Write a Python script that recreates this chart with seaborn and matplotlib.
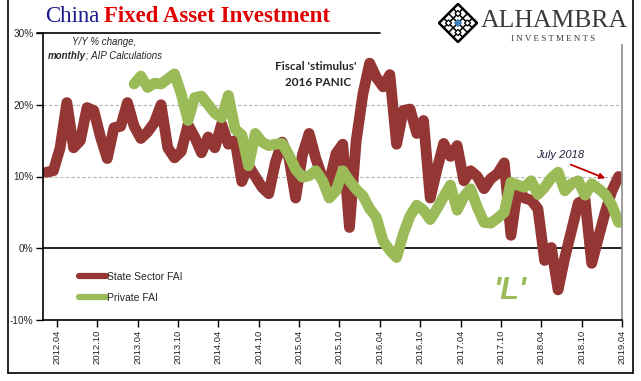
import numpy as np
import pandas as pd
import matplotlib
matplotlib.use("Agg")
import matplotlib.pyplot as plt
import seaborn as sns
from matplotlib.patches import Polygon
from matplotlib.lines import Line2D

# monthly categories, 2012.03 .. 2019.04
months = list(pd.period_range("2012-03", "2019-04", freq="M").strftime("%Y.%m"))
tick_labels = ["2012.04", "2012.10", "2013.04", "2013.10", "2014.04", "2014.10",
               "2015.04", "2015.10", "2016.04", "2016.10", "2017.04", "2017.10",
               "2018.04", "2018.10", "2019.04"]

state_fai = [10.6, 10.8, 14.0, 20.3, 14.0, 15.0, 19.6, 19.2, 15.5, 12.5,
             16.8, 17.0, 20.3, 17.0, 15.3, 16.2, 17.5, 20.0, 14.0, 12.6,
             13.5, 17.2, 15.5, 13.3, 15.5, 14.0, 17.3, 14.5, 15.0, 9.3,
             11.5, 10.0, 8.5, 7.6, 12.0, 14.8, 12.6, 7.0, 13.0, 16.0,
             12.5, 9.8, 9.2, 13.2, 14.5, 2.9, 15.0, 21.5, 25.8, 23.8,
             22.5, 24.2, 14.5, 19.2, 19.4, 16.0, 17.8, 7.0, 11.0, 14.6,
             12.8, 14.3, 9.4, 10.8, 10.0, 8.3, 9.7, 10.4, 11.9, 1.8,
             8.5, 7.0, 6.7, 5.5, -1.7, 0.1, -5.8, -1.3, 2.5, 6.3,
             6.8, -2.1, 1.5, 5.0, 8.0, 10.0]

# private series starts in 2013.04
private_fai = [22.9, 24.0, 22.4, 23.0, 22.9, 23.6, 24.3, 21.5, 17.8, 21.0,
               21.2, 20.0, 18.8, 18.2, 21.3, 16.6, 15.8, 11.5, 16.0, 14.8,
               14.3, 14.5, 14.6, 13.0, 11.0, 9.9, 10.1, 10.8, 9.4, 7.0,
               8.0, 10.8, 9.4, 8.2, 7.3, 5.5, 4.3, 1.0, -0.3, -1.3,
               2.0, 4.5, 6.0, 5.3, 4.0, 5.5, 7.2, 8.8, 5.3, 7.2,
               8.3, 5.7, 3.6, 3.5, 4.2, 5.0, 9.2, 8.8, 8.5, 9.4,
               7.5, 8.5, 9.8, 10.6, 8.0, 9.0, 9.4, 7.4, 9.0, 8.3,
               7.5, 6.0, 3.6]

RED = "#943634"
GREEN = "#9BBB59"

df = pd.DataFrame({
    "month": months,
    "pos": np.arange(len(months)),
    "state": state_fai,
    "private": [np.nan] * (len(months) - len(private_fai)) + private_fai,
})

sns.set_style("white")
plt.rcParams["font.family"] = ["Liberation Sans", "DejaVu Sans"]

W, H = 641, 381
fig = plt.figure(figsize=(W / 100, H / 100), dpi=100)
ax = fig.add_axes([43.3 / W, 1 - 320 / H, (622 - 43.3) / W, (320 - 33) / H])

sns.lineplot(data=df, x="pos", y="state", ax=ax, color=RED, linewidth=7.8,
             label="State Sector FAI")
sns.lineplot(data=df, x="pos", y="private", ax=ax, color=GREEN, linewidth=7.8,
             label="Private FAI")
for ln in ax.lines:
    ln.set_solid_capstyle("round")
    ln.set_solid_joinstyle("round")

ax.set_xlim(-0.5, len(months) - 0.5)
ax.set_ylim(-10, 30)

for y in [10, 20]:
    ax.axhline(y, color="#B5B5B5", lw=0.8, ls=(0, (3, 2)), zorder=0)
ax.axhline(0, color="black", lw=1.2, zorder=1)

ax.set_yticks([-10, 0, 10, 20, 30])
ax.set_yticklabels(["-10%", "0%", "10%", "20%", "30%"], fontsize=7.2)
ax.set_xticks([1.5 + 6 * k for k in range(len(tick_labels))])
ax.set_xticklabels(tick_labels, rotation=90, fontsize=6.8)
ax.tick_params(axis="both", direction="out", length=5, width=1, color="black",
               pad=2, bottom=True, left=True)
ax.set_xlabel("")
ax.set_ylabel("")

for s in ["left", "bottom"]:
    ax.spines[s].set_color("black")
    ax.spines[s].set_linewidth(1.2)
ax.spines["top"].set_visible(False)
ax.spines["right"].set_color("#8C8C8C")
ax.spines["right"].set_linewidth(1.2)
ax.spines["right"].set_bounds(-10, 28.3)

# rule at the 30% level under the title
ax.plot([-0.011, 0.582], [1, 1], transform=ax.transAxes, color="black",
        lw=1.2, clip_on=False)

leg = ax.legend(loc="upper left", bbox_to_anchor=(0.052, 0.185), frameon=False,
                fontsize=7.5, handlelength=2.6, handletextpad=0.15,
                labelspacing=1.0, borderpad=0)
for h in leg.get_lines():
    h.set_linewidth(4.5)
    h.set_solid_capstyle("round")

# annotations
fig.text(72 / W, 1 - 42 / H, "Y/Y % change,", fontsize=7, style="italic",
         va="center", ha="left")
m1 = fig.text(48 / W, 1 - 56 / H, "monthly", fontsize=7, style="italic",
              weight="bold", va="center", ha="left")
fig.canvas.draw()
mb = m1.get_window_extent()
fig.text((mb.x1 + 0.5) / W, 1 - 56 / H, "; AIP Calculations", fontsize=7,
         style="italic", va="center", ha="left")
fig.text(316 / W, 1 - 67 / H, "Fiscal 'stimulus'", fontsize=8.5, weight="bold",
         family="Lato", va="center", ha="center")
fig.text(318 / W, 1 - 82 / H, "2016 PANIC", fontsize=8.5, weight="bold",
         family="Lato", va="center", ha="center")
fig.text(560 / W, 1 - 155 / H, "July 2018", fontsize=8, style="italic",
         color="#1F1F3F", va="center", ha="center")
ax.annotate("", xy=(83.4, 9.6), xytext=(77.5, 11.8),
            arrowprops=dict(arrowstyle="-|>", color="#C00000", lw=1.3,
                            mutation_scale=8))
fig.text(510 / W, 1 - 291 / H, "'L'", fontsize=22, style="italic",
         weight="bold", color=GREEN, va="center", ha="center")

# title in two colours
t1 = fig.text(45 / W, 1 - 17 / H, "China", fontsize=16.5, family="Liberation Serif",
              color="#1A1A8C", va="center", ha="left")
fig.canvas.draw()
bb = t1.get_window_extent()
fig.text((bb.x1 + 5) / W, 1 - 17 / H, "Fixed Asset Investment", fontsize=16.5,
         family="Liberation Serif", weight="bold", color="#E00000",
         va="center", ha="left")

# logo
lax = fig.add_axes([438 / W, 1 - 43 / H, 40 / W, 40 / H])
lax.set_xlim(-1.05, 1.05)
lax.set_ylim(-1.05, 1.05)
lax.axis("off")
lax.add_patch(Polygon([[0, 1], [1, 0], [0, -1], [-1, 0]], closed=True,
                      fill=False, ec="black", lw=1.8))
for c in [-0.5, 0.0, 0.5]:
    # lines x+y=c and x-y=c inside the diamond
    lax.plot([(c - 1) / 2, (c + 1) / 2], [(c + 1) / 2, (c - 1) / 2],
             color="black", lw=1.1)
    lax.plot([(c - 1) / 2, (c + 1) / 2], [-(c + 1) / 2, -(c - 1) / 2],
             color="black", lw=1.1)
for cx, cy in [(0, 0.5), (0.5, 0), (0, -0.5), (-0.5, 0)]:
    s = 0.16
    lax.add_patch(Polygon([[cx, cy + s], [cx + s, cy], [cx, cy - s], [cx - s, cy]],
                          closed=True, fc="white", ec="black", lw=0.9, zorder=4))
lax.add_patch(Polygon([[0, 0.22], [0.22, 0], [0, -0.22], [-0.22, 0]], closed=True,
                      fc="#3F7FBF", ec="none", zorder=5))
fig.text(481 / W, 1 - 21 / H, "ALHAMBRA", fontsize=18.5, family="Liberation Serif",
         color="#3A3A3A", va="center", ha="left")
fig.text(553 / W, 1 - 39 / H, "I N V E S T M E N T S", fontsize=6.5,
         family="Liberation Serif", color="#3A3A3A", va="center", ha="center")

# outer frame
for xs, ys in [([8, 8], [0, 373]), ([8, 633], [373, 373]), ([633, 633], [0, 373])]:
    fig.add_artist(Line2D([x / W for x in xs], [1 - y / H for y in ys],
                          color="black", lw=1.2))

fig.savefig("out.png", dpi=100)
